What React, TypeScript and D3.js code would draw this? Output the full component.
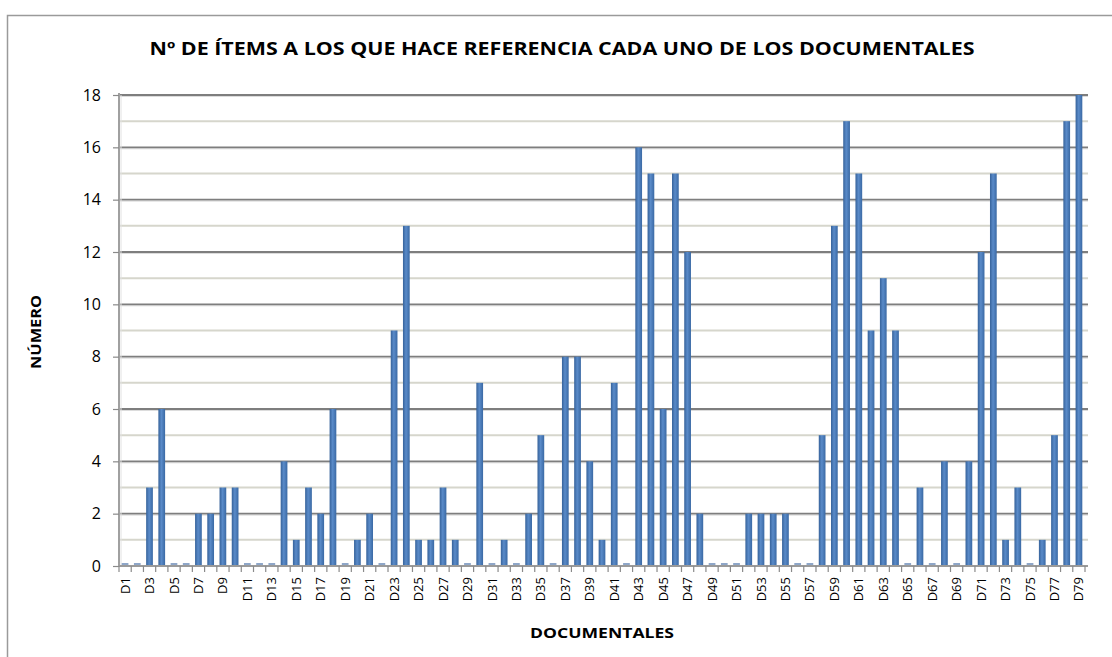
import { useRef, useEffect } from "react";
import * as d3 from "d3";

// datos
const categories = Array.from({ length: 79 }, (_, i) => `D${i + 1}`);
const values = [
  0, 0, 3, 6, 0, 0, 2, 2, 3, 3,
  0, 0, 0, 4, 1, 3, 2, 6, 0, 1,
  2, 0, 9, 13, 1, 1, 3, 1, 0, 7,
  0, 1, 0, 2, 5, 0, 8, 8, 4, 1,
  7, 0, 16, 15, 6, 15, 12, 2, 0, 0,
  0, 2, 2, 2, 2, 0, 0, 5, 13, 17,
  15, 9, 11, 9, 0, 3, 0, 4, 0, 4,
  12, 15, 1, 3, 0, 1, 5, 17, 18,
];
const yTicks = [0, 2, 4, 6, 8, 10, 12, 14, 16, 18];

const title = "Nº DE ÍTEMS A LOS QUE HACE REFERENCIA CADA UNO DE LOS DOCUMENTALES";
const yTitle = "NÚMERO";
const xTitle = "DOCUMENTALES";

export default function App() {
  const svgRef = useRef<SVGSVGElement>(null);

  useEffect(() => {
    if (!svgRef.current) return;
    const svg = d3.select(svgRef.current);
    svg.selectAll("*").remove();

    const width = 1112;
    const height = 657;
    const left = 119, right = 1085, top = 95, bottom = 566;
    const font = "'Open Sans', 'DejaVu Sans', sans-serif";

    svg.attr("width", width).attr("height", height);

    const defs = svg.append("defs");
    const grad = defs.append("linearGradient").attr("id", "barGrad")
      .attr("x1", "0").attr("x2", "1").attr("y1", "0").attr("y2", "0");
    grad.append("stop").attr("offset", "0%").attr("stop-color", "#36629a");
    grad.append("stop").attr("offset", "45%").attr("stop-color", "#5a8bc9");
    grad.append("stop").attr("offset", "100%").attr("stop-color", "#3a69a4");

    // marco
    svg.append("rect")
      .attr("x", 7.5).attr("y", 15.5)
      .attr("width", 1110).attr("height", 660)
      .attr("fill", "#fff").attr("stroke", "#9a9a9a").attr("stroke-width", 1.5);

    const x = d3.scaleBand<string>().domain(categories).range([left, right]).paddingInner(0.45).paddingOuter(0.22);
    const xb = d3.scaleBand<string>().domain(categories).range([left, right]);
    const y = d3.scaleLinear().domain([0, 18]).range([bottom, top]);

    // rejilla
    const g = svg.append("g");
    d3.range(1, 19, 2).forEach((v) => {
      g.append("line")
        .attr("x1", left).attr("x2", right + 3)
        .attr("y1", y(v)).attr("y2", y(v))
        .attr("stroke", "#d6d6cc").attr("stroke-width", 2);
    });
    yTicks.slice(1).forEach((v) => {
      g.append("line")
        .attr("x1", left).attr("x2", right + 3)
        .attr("y1", y(v) + 1.5).attr("y2", y(v) + 1.5)
        .attr("stroke", "#dcdcdc").attr("stroke-width", 1);
      g.append("line")
        .attr("x1", left).attr("x2", right + 3)
        .attr("y1", y(v)).attr("y2", y(v))
        .attr("stroke", "#7e7e7e").attr("stroke-width", 1.8);
    });

    // eje Y
    g.append("line")
      .attr("x1", left).attr("x2", left)
      .attr("y1", top - 2).attr("y2", bottom)
      .attr("stroke", "#a0a0a0").attr("stroke-width", 2);
    g.append("line")
      .attr("x1", left + 2).attr("x2", left + 2)
      .attr("y1", top).attr("y2", bottom)
      .attr("stroke", "#e2e2e2").attr("stroke-width", 1);

    const yAxis = svg.append("g")
      .attr("transform", `translate(${left},0)`)
      .call(d3.axisLeft(y).tickValues(yTicks).tickSize(6).tickPadding(12));
    yAxis.select(".domain").remove();
    yAxis.selectAll(".tick line").attr("stroke", "#8a8a8a").attr("stroke-width", 1.2);
    yAxis.selectAll(".tick text")
      .attr("font-family", font).attr("font-size", "16px").attr("fill", "#000");

    // barras
    svg.append("g").selectAll("rect")
      .data(values)
      .join("rect")
      .attr("x", (_, i) => x(categories[i]) ?? 0)
      .attr("y", (d) => (d === 0 ? bottom - 3 : y(d)))
      .attr("width", x.bandwidth())
      .attr("height", (d) => (d === 0 ? 2.5 : bottom - y(d)))
      .attr("fill", (d) => (d === 0 ? "#8ea6c8" : "url(#barGrad)"));

    // eje X
    svg.append("line")
      .attr("x1", left).attr("x2", right + 3)
      .attr("y1", bottom).attr("y2", bottom)
      .attr("stroke", "#9a9a9a").attr("stroke-width", 2);

    const xAxis = svg.append("g")
      .attr("transform", `translate(0,${bottom})`)
      .call(
        d3.axisBottom(xb)
          .tickValues(categories.filter((_, i) => i % 2 === 0))
          .tickSize(0)
          .tickPadding(0)
      );
    xAxis.select(".domain").remove();
    xAxis.selectAll(".tick text")
      .attr("font-family", font).attr("font-size", "13px").attr("fill", "#000")
      .attr("transform", "rotate(-90)")
      .attr("text-anchor", "end")
      .attr("x", -11).attr("y", 0).attr("dy", "0.35em");

    // marcas entre categorías
    svg.append("g").selectAll("line")
      .data(d3.range(categories.length + 1))
      .join("line")
      .attr("x1", (i) => left + i * xb.bandwidth())
      .attr("x2", (i) => left + i * xb.bandwidth())
      .attr("y1", bottom).attr("y2", bottom + 6)
      .attr("stroke", "#8a8a8a").attr("stroke-width", 1.2);

    // títulos
    svg.append("text")
      .attr("x", 562).attr("y", 55)
      .attr("text-anchor", "middle")
      .attr("font-family", font).attr("font-weight", "700")
      .attr("font-size", "18px").attr("fill", "#000")
      .attr("textLength", 825).attr("lengthAdjust", "spacingAndGlyphs")
      .text(title);

    svg.append("text")
      .attr("transform", `translate(41,332) rotate(-90)`)
      .attr("text-anchor", "middle")
      .attr("font-family", font).attr("font-weight", "700")
      .attr("font-size", "15px").attr("fill", "#000")
      .attr("textLength", 74).attr("lengthAdjust", "spacingAndGlyphs")
      .text(yTitle);

    svg.append("text")
      .attr("x", 602).attr("y", 638)
      .attr("text-anchor", "middle")
      .attr("font-family", font).attr("font-weight", "700")
      .attr("font-size", "15px").attr("fill", "#000")
      .attr("textLength", 144).attr("lengthAdjust", "spacingAndGlyphs")
      .text(xTitle);
  }, []);

  return (
    <svg
      ref={svgRef}
      style={{ position: "absolute", left: 0, top: 0, display: "block" }}
    />
  );
}
